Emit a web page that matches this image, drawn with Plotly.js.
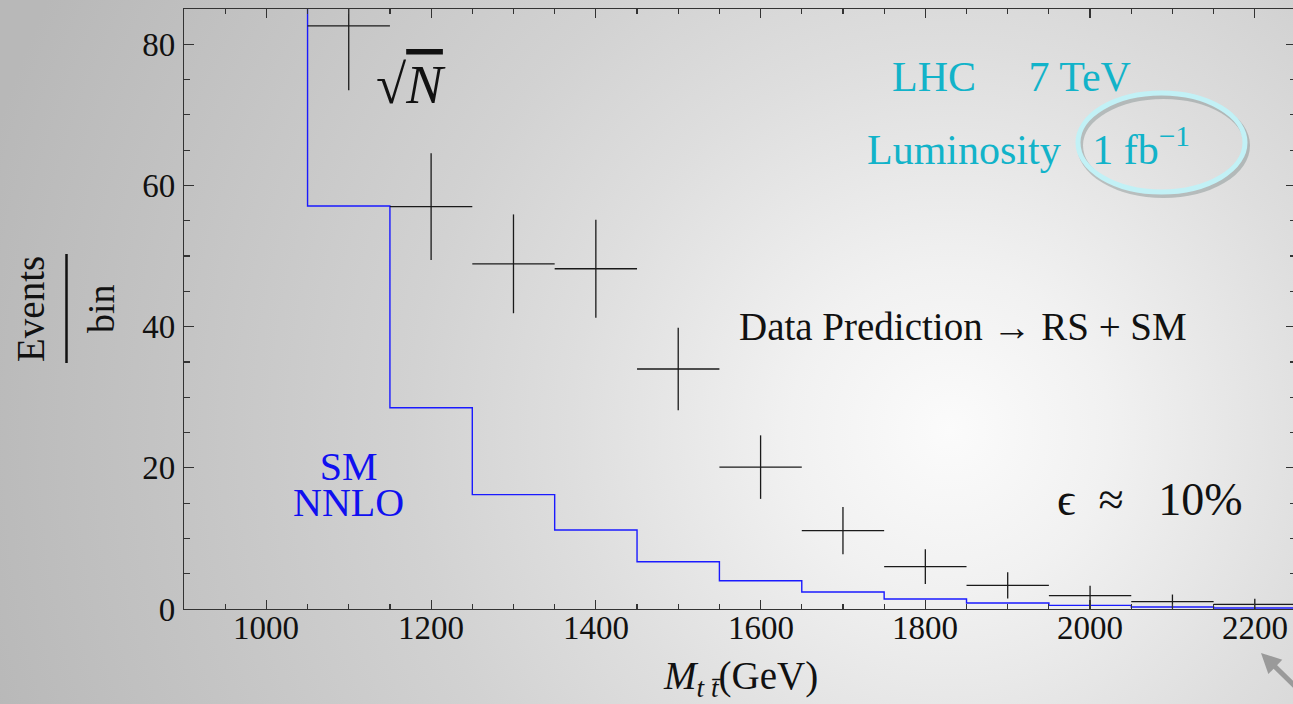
<!DOCTYPE html>
<html>
<head>
<meta charset="utf-8">
<script src="https://cdn.plot.ly/plotly-3.0.1.min.js"></script>
<style>
  html, body { margin: 0; padding: 0; width: 1293px; height: 704px; overflow: hidden; }
  body {
    background: radial-gradient(circle at 950px 430px, #fbfbfb 0px, #f1f1f1 160px, #dedede 380px, #d2d2d2 540px, #c4c4c4 780px, #b8b8b8 1000px);
  }
  #chart { width: 1300px; height: 704px; }
</style>
</head>
<body>
<div id="chart"></div>
<script>
// ---- data ----
const dataBinCenters = [1100, 1200, 1300, 1400, 1500, 1600, 1700, 1800, 1900, 2000, 2100, 2200];
const dataEvents     = [82.6, 57.0, 48.9, 48.2, 34.0, 20.1, 11.1, 6.0, 3.35, 1.9, 1.05, 0.65];
const dataSqrtN      = [9.1, 7.55, 7.0, 6.95, 5.85, 4.5, 3.35, 2.45, 1.85, 1.4, 1.0, 0.8];
const binHalfWidth   = 50;

const smEdges  = [950, 1050, 1150, 1250, 1350, 1450, 1550, 1650, 1750, 1850, 1950, 2050, 2150, 2250];
const smValues = [120, 57.1, 28.5, 16.2, 11.2, 6.7, 4.0, 2.4, 1.42, 0.85, 0.51, 0.28, 0.15, 0.15];

const xTickVals = [1000, 1200, 1400, 1600, 1800, 2000, 2200];
const xTickText = ["1000", "1200", "1400", "1600", "1800", "2000", "2200"];
const yTickVals = [0, 20, 40, 60, 80];

// ---- layout geometry ----
const W = 1300, H = 704, L = 184, R = 4, T = 9, B = 95;
function px(x) { return (x - L) / (W - L - R); }
function py(y) { return (H - B - y) / (H - T - B); }

const serif = "'Liberation Serif', 'Times New Roman', Times, serif";
const cyan = "#12b3c9";

const traces = [
  {
    x: smEdges, y: smValues, type: "scatter", mode: "lines",
    line: { shape: "hv", color: "#1a1aff", width: 1.4 },
    hoverinfo: "skip", showlegend: false
  },
  {
    x: dataBinCenters, y: dataEvents, type: "scatter", mode: "markers",
    marker: { size: 1, color: "rgba(0,0,0,0)" },
    error_y: { type: "data", array: dataSqrtN, visible: true, color: "#1a1a1a", thickness: 1.3, width: 0 },
    error_x: { type: "constant", value: binHalfWidth, visible: true, color: "#1a1a1a", thickness: 1.3, width: 0 },
    showlegend: false
  }
];

const axisCommon = {
  showline: true, linecolor: "#333", linewidth: 1.2, mirror: "allticks",
  ticks: "inside", tickcolor: "#333", tickwidth: 1.2,
  showgrid: false, zeroline: false,
  tickfont: { family: serif, size: 33, color: "#111" }
};

function ann(x, y, text, size, color, extra) {
  return Object.assign({
    xref: "paper", yref: "paper", x: px(x), y: py(y), text: text, showarrow: false,
    xanchor: "center", yanchor: "middle",
    font: { family: serif, size: size, color: color }
  }, extra || {});
}

// x tick labels placed just under the axis, as in the reference
const xTickLabels = xTickVals.map((v, i) => ({
  xref: "x", yref: "paper", x: v, y: py(628), text: xTickText[i], showarrow: false,
  xanchor: "center", yanchor: "middle",
  font: { family: serif, size: 33, color: "#111" }
}));

const layout = {
  width: W, height: H,
  margin: { l: L, r: R, t: T, b: B },
  paper_bgcolor: "rgba(0,0,0,0)", plot_bgcolor: "rgba(0,0,0,0)",
  font: { family: serif },
  xaxis: Object.assign({}, axisCommon, {
    range: [900, 2250], tickvals: xTickVals, ticklen: 9, showticklabels: false,
    minor: { dtick: 50, tick0: 900, ticks: "inside", ticklen: 5, tickcolor: "#333", tickwidth: 1.2 }
  }),
  yaxis: Object.assign({}, axisCommon, {
    range: [0, 85], tickvals: yTickVals, ticklen: 10,
    minor: { dtick: 5, tick0: 0, ticks: "inside", ticklen: 6, tickcolor: "#333", tickwidth: 1.2 },
    ticklabelstandoff: 1
  }),
  shapes: [
    { type: "line", xref: "paper", yref: "paper", x0: px(66.5), x1: px(66.5), y0: py(254), y1: py(363),
      line: { color: "#111", width: 2.5 } },
    { type: "circle", xref: "paper", yref: "paper", x0: px(1080), x1: px(1247), y0: py(195), y1: py(96),
      line: { color: "rgba(80,100,100,0.3)", width: 6 } },
    { type: "circle", xref: "paper", yref: "paper", x0: px(1078), x1: px(1245), y0: py(192), y1: py(93),
      line: { color: "#c2f1f6", width: 5 } }
  ],
  annotations: xTickLabels.concat([
    ann(30, 309, "Events", 39, "#111", { textangle: -90 }),
    ann(101, 309, "bin", 38, "#111", { textangle: -90 }),
    ann(740, 678, "<i>M</i><sub><i>t t\u0304</i></sub>(GeV)", 39, "#111"),
    ann(411, 84, "\u221A<span style='text-decoration:overline'><i>N</i></span>", 55, "#111"),
    ann(1011, 77, "LHC\u2003 7 TeV", 42, cyan),
    ann(1028, 146, "Luminosity\u2002 1 fb<sup>\u22121</sup>", 42, cyan),
    ann(963, 326, "Data Prediction \u2192 RS + SM", 39, "#111"),
    ann(1150, 499, "\u03F5\u2002\u2248\u2002 10%", 46, "#111"),
    ann(348, 484, "<span style='font-size:40px'>SM</span><br><span style='font-size:40px'>NNLO</span>", 28, "#1010f0", { borderpad: 0 }),
    { xref: "paper", yref: "paper", x: px(1261), y: py(653), text: " ", showarrow: true,
      ax: 45, ay: 38, arrowhead: 2, arrowsize: 0.8, arrowwidth: 5, arrowcolor: "#9a9a9a" }
  ])
};

Plotly.newPlot("chart", traces, layout, { displayModeBar: false, staticPlot: true });
</script>
</body>
</html>
